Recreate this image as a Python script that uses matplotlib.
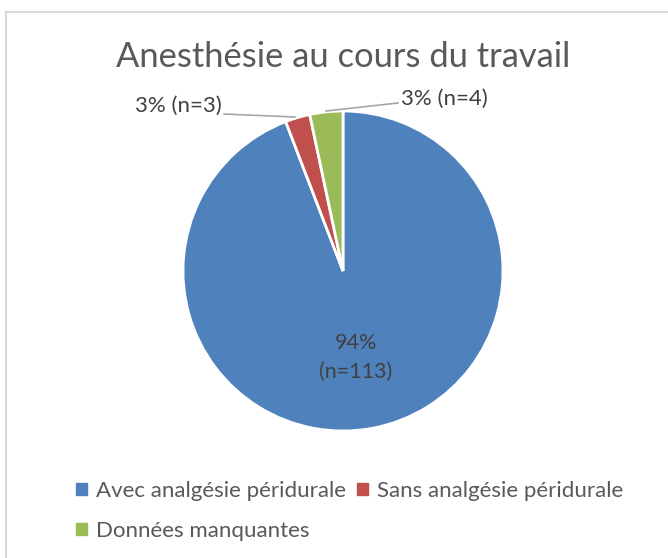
import matplotlib.pyplot as plt
from matplotlib.patches import Patch
from matplotlib.lines import Line2D

plt.rcParams['font.family'] = ['Lato', 'DejaVu Sans']

# donnees
categories = ['Avec analgésie péridurale', 'Sans analgésie péridurale', 'Données manquantes']
effectifs = [113, 3, 4]
pourcents = ['94%', '3%', '3%']
couleurs = ['#4F81BD', '#C0504D', '#9BBB59']
titre = 'Anesthésie au cours du travail'

fig = plt.figure(figsize=(6.68, 5.58), dpi=100)

# cadre gris du graphique (bords gauche et haut visibles)
fig.add_artist(Line2D([6/668, 6/668], [0, 1 - 12/558], color='#D9D9D9', lw=1.5))
fig.add_artist(Line2D([6/668, 1], [1 - 12/558, 1 - 12/558], color='#D9D9D9', lw=1.5))

cx, cy, r = 343, 271, 160
ax = fig.add_axes([(cx - r) / 668, (558 - cy - r) / 558, 2 * r / 668, 2 * r / 558])
wedges, _ = ax.pie(effectifs, colors=couleurs, startangle=90, counterclock=False,
                   wedgeprops=dict(edgecolor='white', linewidth=2))
ax.set_xlim(-1, 1)
ax.set_ylim(-1, 1)
ax.set_aspect('equal')

fig.text(343/668, 1 - 57/558, titre, ha='center', va='center', fontsize=24.8, color='#595959')

gris = '#404040'
# etiquette interne
ax.text(0.08, -0.54, pourcents[0] + '\n(n=' + str(effectifs[0]) + ')', ha='center', va='center',
        fontsize=15.5, color=gris, linespacing=1.6)

# etiquettes externes avec lignes de rappel
fig.text(222/668, 1 - 106/558, pourcents[1] + ' (n=' + str(effectifs[1]) + ')', ha='right', va='center',
         fontsize=16, color=gris)
fig.add_artist(Line2D([224/668, 295/668], [1 - 114/558, 1 - 117/558], color='#A6A6A6', lw=1.2))
fig.text(401/668, 1 - 99/558, pourcents[2] + ' (n=' + str(effectifs[2]) + ')', ha='left', va='center',
         fontsize=16, color=gris)
fig.add_artist(Line2D([326/668, 398/668], [1 - 111/558, 1 - 103/558], color='#A6A6A6', lw=1.2))

handles = [Patch(color=c) for c in couleurs]
order = [0, 2, 1]
fig.legend([handles[i] for i in order], [categories[i] for i in order], ncol=2,
           loc='upper left', bbox_to_anchor=(56/668, 1 - 461/558), frameon=False,
           fontsize=16, handlelength=0.5, handleheight=0.5, handletextpad=0.4,
           columnspacing=0.5, labelspacing=0.9, labelcolor='#595959')

fig.savefig('out.png', dpi=100)
